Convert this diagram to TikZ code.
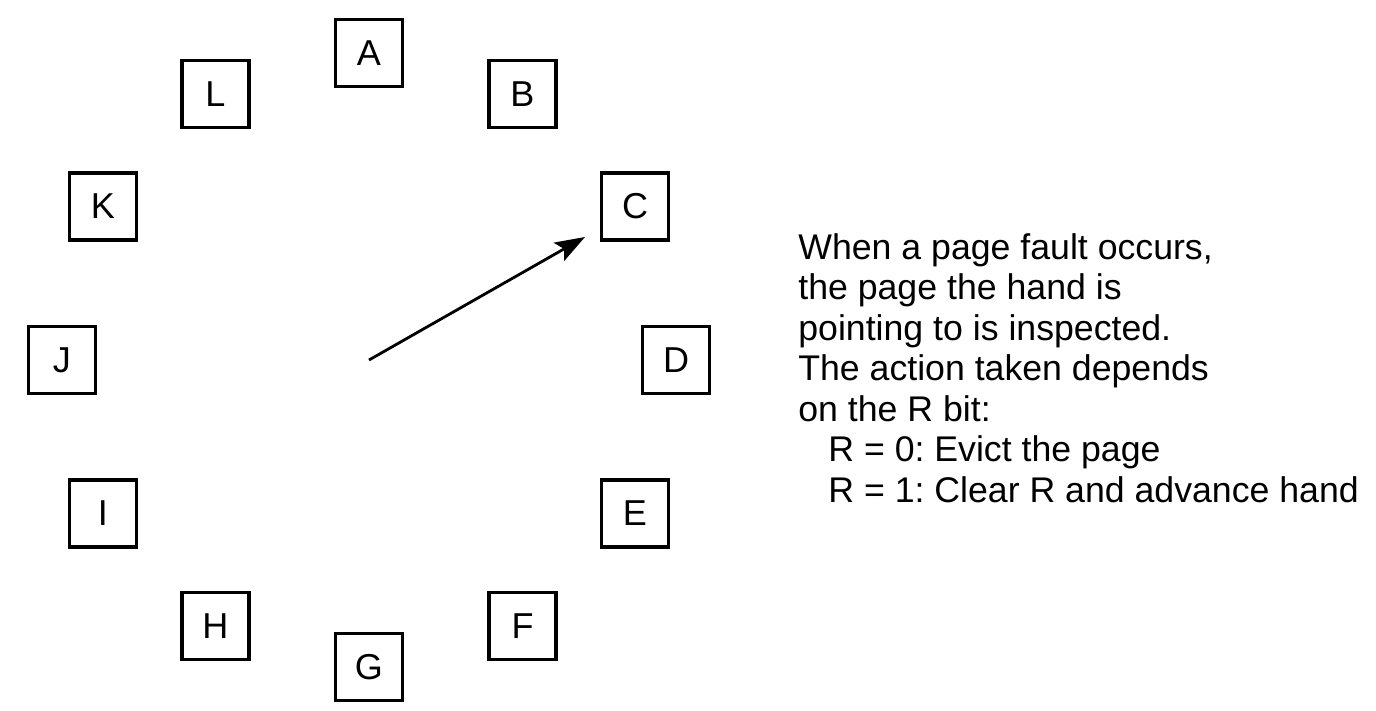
\documentclass[tikz,border=0pt]{standalone}
\usepackage{fontspec}
\setmainfont{Liberation Sans}
\usepackage{tikz}
\usetikzlibrary{arrows.meta, positioning}

\begin{document}
\frenchspacing
\begin{tikzpicture}[
		page/.style={
			draw,
			line width=1.8pt,
			minimum width=1.34cm,
			minimum height=1.34cm,
			inner sep=0pt,
			font=\fontsize{20.5}{24}\selectfont
		},
		hand/.style={
			-{Stealth[length=0.6cm, width=0.42cm, inset=0.12cm]},
			line width=1.6pt
		},
		note/.style={
			align=left,
			inner sep=0pt,
			font=\fontsize{20.3}{23}\selectfont
		}
		]
		\useasboundingbox (-7.38,7.2) rectangle (20.14,-7.0);
		
		% Centro do relogio
		\coordinate (hub) at (0,0);
		
		% Paginas em volta do relogio
		\node[page] (A) at (0,6.14) {A};
		\node[page] (B) at (3.07,5.32) {B};
		\node[page] (C) at (5.32,3.07) {C};
		\node[page] (D) at (6.14,0) {D};
		\node[page] (E) at (5.32,-3.07) {E};
		\node[page] (F) at (3.07,-5.32) {F};
		\node[page] (G) at (0,-6.14) {G};
		\node[page] (H) at (-3.07,-5.32) {H};
		\node[page] (I) at (-5.32,-3.07) {I};
		\node[page] (J) at (-6.14,0) {J};
		\node[page] (K) at (-5.32,3.07) {K};
		\node[page] (L) at (-3.07,5.32) {L};
		
		% Ponteiro
		\coordinate (tip) at (4.32,2.46);
		\draw[hand] (hub) -- (tip);
		
		% Texto explicativo
		\node[note, anchor=base west] (regra) at (8.58,-2.84) {When a page fault occurs,\\
			the page the hand is\\
			pointing to is inspected.\\
			The action taken depends\\
			on the R bit:\\
			\hspace*{0.6cm}R = 0: Evict the page\\
			\hspace*{0.6cm}R = 1: Clear R and advance hand};
		
	\end{tikzpicture}
\end{document}
